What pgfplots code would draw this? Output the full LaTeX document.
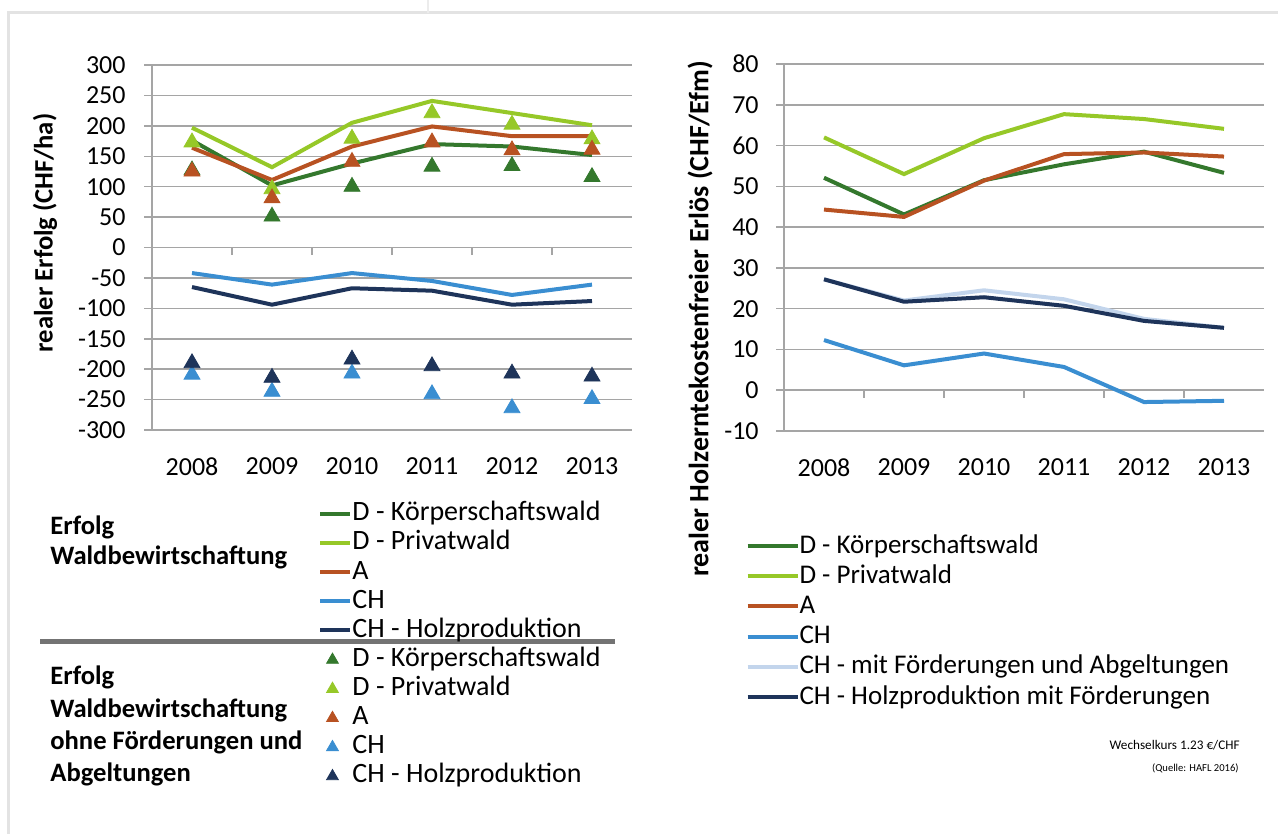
\documentclass[border=0pt]{standalone}
\usepackage{fontspec}
\setmainfont{Carlito}
\usepackage{pgfplots}
\pgfplotsset{compat=1.18}
\definecolor{dk}{RGB}{52,120,45}
\definecolor{dp}{RGB}{150,200,40}
\definecolor{aa}{RGB}{184,82,34}
\definecolor{ch}{RGB}{58,142,209}
\definecolor{chh}{RGB}{30,52,90}
\definecolor{chf}{RGB}{195,213,236}
\definecolor{gridc}{RGB}{165,165,165}
\pgfplotsset{
  base/.style={scale only axis, width=240pt, xmin=0.5, xmax=6.5,
    xtick={1,2,3,4,5,6}, xticklabels={2008,2009,2010,2011,2012,2013},
    axis x line*=bottom, axis y line*=left,
    axis line style={gridc,line width=0.75pt},
    ymajorgrids, grid style={gridc,line width=0.75pt},
    xtick style={draw=none}, ytick style={gridc,line width=0.75pt},
    tick align=outside, major tick length=4pt,
    tick label style={font=\fontsize{13}{15}\selectfont},
    xticklabel style={anchor=north,inner sep=0pt,yshift=-9.5pt},
    yticklabel style={anchor=east,inner sep=0pt},
    clip=false, legend cell align=left},
  ln/.style={line width=2pt, no markers,
    legend image code/.code={\draw[##1,line width=2pt] (0pt,0pt)--(15pt,0pt);}},
  lnr/.style={line width=2pt, no markers,
    legend image code/.code={\draw[##1,line width=2pt] (0pt,0pt)--(25pt,0pt);}},
  tri/.style={only marks, mark=triangle*, mark size=4.6pt,
    legend image code/.code={\draw[##1,mark size=3.4pt] plot coordinates {(6pt,-0.3pt)};}},
}
\begin{document}
\begin{tikzpicture}
\path[use as bounding box] (0,0) rectangle (639pt,417pt);
\begin{scope}[x=0.5pt,y=-0.5pt,shift={(0pt,417pt)}]
\draw[gray!22,line width=1.5pt] (8,834) -- (8,13) -- (1278,13);
\draw[gray!15,line width=0.8pt] (428,0) -- (428,13);
\node[rotate=90,font=\fontsize{13.3}{15}\selectfont\bfseries] at (45,233) {realer Erfolg (CHF/ha)};
\node[rotate=90,font=\fontsize{14}{15}\selectfont\bfseries] at (700,319) {realer Holzerntekostenfreier Erlös (CHF/Efm)};
\begin{scope}[every node/.style={anchor=west,inner sep=0pt,font=\fontsize{13.3}{15}\selectfont\bfseries}]
\node at (50,527) {Erfolg};
\node at (50,557) {Waldbewirtschaftung};
\node at (50,677) {Erfolg};
\node at (50,710) {Waldbewirtschaftung};
\node at (50,742) {ohne Förderungen und};
\node at (50,774) {Abgeltungen};
\end{scope}
\draw[gray!90!black,line width=2.5pt] (40,642) -- (615,642);
\node[anchor=east,inner sep=0pt,font=\fontsize{6.6}{7}\selectfont] at (1240,745) {Wechselkurs 1.23 €/CHF};
\node[anchor=east,inner sep=0pt,font=\fontsize{5.3}{6}\selectfont] at (1239,768) {(Quelle: HAFL 2016)};
\end{scope}

\begin{axis}[base, at={(76pt,202pt)}, anchor=south west, height=182.5pt,
  ymin=-300, ymax=300, ytick={-300,-250,...,300},
  yticklabels={-300,-250,-200,-150,-100,-50,0,50,100,150,200,250,300},
  yticklabel style={xshift=-9pt},
  legend style={draw=none, fill=none, at={(axis description cs:0.346,-0.194)}, anchor=north west,
    inner sep=0pt, row sep=1.95pt,
    nodes={font=\fontsize{14}{15}\selectfont, inner sep=0pt, text height=9.8pt, text depth=2.8pt}}]
\addplot[ln, dk] coordinates {(1,176) (2,102) (3,138) (4,170) (5,166) (6,152)};
\addlegendentry{D - Körperschaftswald}
\addplot[ln, dp] coordinates {(1,197) (2,132) (3,205) (4,241) (5,221) (6,201)};
\addlegendentry{D - Privatwald}
\addplot[ln, aa] coordinates {(1,164) (2,111) (3,166) (4,199) (5,183) (6,183)};
\addlegendentry{A}
\addplot[ln, ch] coordinates {(1,-42) (2,-61) (3,-42) (4,-55) (5,-78) (6,-61)};
\addlegendentry{CH}
\addplot[ln, chh] coordinates {(1,-65) (2,-94) (3,-67) (4,-71) (5,-94) (6,-88)};
\addlegendentry{CH - Holzproduktion}
\addplot[tri, dk] coordinates {(1,127) (2,51) (3,100) (4,133) (5,134) (6,116)};
\addlegendentry{D - Körperschaftswald}
\addplot[tri, dp] coordinates {(1,173) (2,96) (3,179) (4,221) (5,202) (6,178)};
\addlegendentry{D - Privatwald}
\addplot[tri, aa] coordinates {(1,125) (2,81) (3,141) (4,173) (5,160) (6,161)};
\addlegendentry{A}
\addplot[tri, ch] coordinates {(1,-209) (2,-237) (3,-207) (4,-241) (5,-264) (6,-249)};
\addlegendentry{CH}
\addplot[tri, chh] coordinates {(1,-190) (2,-214) (3,-184) (4,-195) (5,-207) (6,-212)};
\addlegendentry{CH - Holzproduktion}
\draw[gridc,line width=0.75pt] (axis cs:1.5,0) -- (axis cs:1.5,-13);
\draw[gridc,line width=0.75pt] (axis cs:2.5,0) -- (axis cs:2.5,-13);
\draw[gridc,line width=0.75pt] (axis cs:3.5,0) -- (axis cs:3.5,-13);
\draw[gridc,line width=0.75pt] (axis cs:4.5,0) -- (axis cs:4.5,-13);
\draw[gridc,line width=0.75pt] (axis cs:5.5,0) -- (axis cs:5.5,-13);
\end{axis}

\begin{axis}[base, at={(392pt,201.5pt)}, anchor=south west, height=183.5pt,
  ymin=-10, ymax=80, ytick={-10,0,...,80},
  yticklabels={-10,0,10,20,30,40,50,60,70,80},
  yticklabel style={xshift=-8.5pt},
  legend style={draw=none, fill=none, at={(axis description cs:-0.081,-0.278)}, anchor=north west,
    inner sep=0pt, row sep=2.5pt,
    nodes={font=\fontsize{13.5}{15}\selectfont, inner sep=0pt, text height=9.8pt, text depth=2.8pt}}]
\addplot[lnr, dk] coordinates {(1,52.1) (2,43.1) (3,51.5) (4,55.4) (5,58.5) (6,53.3)};
\addlegendentry{D - Körperschaftswald}
\addplot[lnr, dp] coordinates {(1,62.0) (2,53.0) (3,61.8) (4,67.7) (5,66.5) (6,64.1)};
\addlegendentry{D - Privatwald}
\addplot[lnr, aa] coordinates {(1,44.3) (2,42.5) (3,51.4) (4,57.9) (5,58.3) (6,57.3)};
\addlegendentry{A}
\addplot[lnr, ch] coordinates {(1,12.3) (2,6.1) (3,9.0) (4,5.7) (5,-2.9) (6,-2.6)};
\addlegendentry{CH}
\addplot[lnr, chf] coordinates {(1,27.2) (2,22.0) (3,24.5) (4,22.3) (5,17.5) (6,15.3)};
\addlegendentry{CH - mit Förderungen und Abgeltungen}
\addplot[lnr, chh] coordinates {(1,27.2) (2,21.7) (3,22.8) (4,20.7) (5,17.0) (6,15.3)};
\addlegendentry{CH - Holzproduktion mit Förderungen}
\draw[gridc,line width=0.75pt] (axis cs:1.5,0) -- (axis cs:1.5,-2);
\draw[gridc,line width=0.75pt] (axis cs:2.5,0) -- (axis cs:2.5,-2);
\draw[gridc,line width=0.75pt] (axis cs:3.5,0) -- (axis cs:3.5,-2);
\draw[gridc,line width=0.75pt] (axis cs:4.5,0) -- (axis cs:4.5,-2);
\draw[gridc,line width=0.75pt] (axis cs:5.5,0) -- (axis cs:5.5,-2);
\end{axis}
\end{tikzpicture}
\end{document}
